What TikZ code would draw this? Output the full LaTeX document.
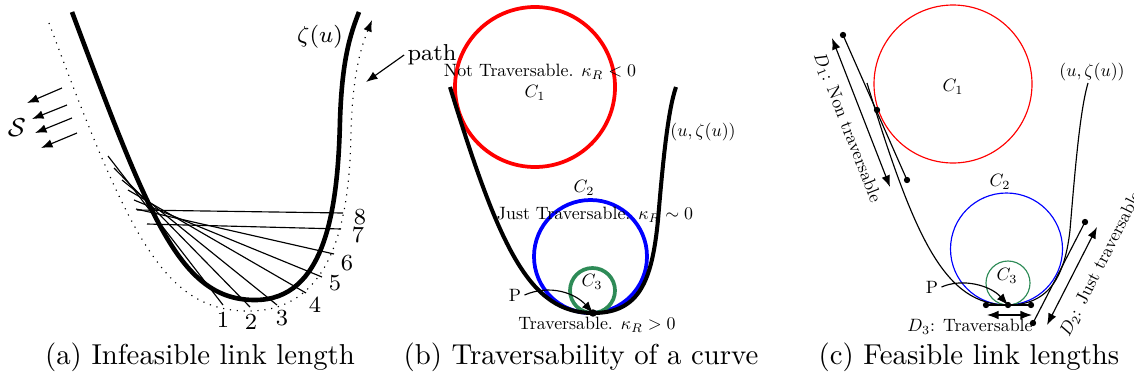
\documentclass[tikz,border=0pt]{standalone}
\usepackage{xcolor}
\usepackage{graphicx}
\usepackage{tikz}
\usetikzlibrary{positioning,arrows.meta}
\usepackage{amsmath,amssymb}

\definecolor{darkgreen}{RGB}{46,139,87}
\newcommand{\tn}[1]{\scalebox{0.62}{#1}}

\begin{document}
\begin{tikzpicture}[x=0.0122cm, y=-0.0122cm,
		bigtip/.style={-{Latex[length=4pt,width=3pt]}},
		twotip/.style={{Latex[length=4pt,width=3pt]}-{Latex[length=4pt,width=3pt]}},
		lab/.style={inner sep=1pt},
		alab/.style={font=\footnotesize, inner sep=1pt}]
	\useasboundingbox (0,0) rectangle (1134,380);

	% (a): curve, offset path and links
	\draw[line width=1.6pt] (72,12) .. controls (150,220) and (180,300) .. (255,300)
		.. controls (325,300) and (338,210) .. (340,120)
		.. controls (342,60) and (350,35) .. (359,12);
	\draw[dotted, bigtip] (49,23) .. controls (130,240) and (165,312) .. (250,311)
		.. controls (335,310) and (350,215) .. (351,130)
		.. controls (353,70) and (362,45) .. (372,20);
	\foreach \n/\sx/\sy/\ex/\ey/\lx/\ly in {1/108/156/223/305/223/320, 2/114/168/250/307/251/322, 3/122/180/277/305/282/318, 4/128/190/306/293/315/305, 5/134/200/322/277/335/283, 6/136/209/334/254/347/263, 7/147/224/341/229/358/235, 8/137/210/343/213/360/217} {
			\draw[thin] (\sx,\sy) -- (\ex,\ey);
			\node[alab] (num\n) at (\lx,\ly) {\n};
		}
	\foreach \sx/\sy/\ex/\ey in {62/88/27/103, 67/105/32/119, 72/118/35/133, 77/133/41/148} {
			\draw[bigtip] (\sx,\sy) -- (\ex,\ey);
		}
	\node[font=\small] (setS) at (17,128) {$\mathcal{S}$};
	\node[alab] (zetaa) at (320,37) {$\zeta(u)$};
	\node[alab] (pathlab) at (432,55) {path};
	\coordinate (pathend) at (366,82);
	\draw[bigtip] (pathlab.west) -- (pathend);

	% (b): traversability
	\draw[red, line width=1.3pt] (535,87) circle (80);
	\draw[blue, line width=1.3pt] (590.5,256.5) circle (56.5);
	\draw[darkgreen, line width=1.3pt] (592.5,290.5) circle (22.5);
	\draw[line width=1.4pt] (450,87) .. controls (500,250) and (530,313) .. (593,313)
		.. controls (640,313) and (652,280) .. (658,220)
		.. controls (663,160) and (668,110) .. (676,87);
	\coordinate (tb) at (593,313);
	\fill (tb) circle (1.3pt);
	\node[lab] (notb) at (540,72) {\tn{Not Traversable. $\kappa_R<0$}};
	\node[lab] (c1b) at (535,93) {\tn{$C_1$}};
	\node[lab] (zetab) at (703,132) {\tn{$(u,\zeta(u))$}};
	\node[lab] (c2b) at (584,188) {\tn{$C_2$}};
	\node[lab] (justb) at (595,215) {\tn{Just Traversable. $\kappa_R\sim 0$}};
	\node[lab] (c3b) at (592,282) {\tn{$C_3$}};
	\node[lab] (pb) at (515,295) {\tn{P}};
	\node[lab] (travb) at (597,325) {\tn{Traversable. $\kappa_R>0$}};
	\draw[-{Latex[length=4pt,width=3pt]}] (pb.east) .. controls (550,284) and (575,293) .. (tb);

	% (c): feasible link lengths
	\draw[red] (953,84) circle (79);
	\draw[blue] (1006.5,249) circle (56);
	\draw[darkgreen] (1008,283) circle (22);
	\draw (867,83) .. controls (915,240) and (945,305) .. (1008,305)
		.. controls (1050,305) and (1065,275) .. (1070,230)
		.. controls (1075,170) and (1080,110) .. (1088,83);
	\node[lab] (c1c) at (953,87) {\tn{$C_1$}};
	\node[lab] (c2c) at (1000,182) {\tn{$C_2$}};
	\node[lab] (c3c) at (1007,276) {\tn{$C_3$}};
	\node[lab] (zetac) at (1092,72) {\tn{$(u,\zeta(u))$}};

	% links D1, D2, D3
	\coordinate (d1a) at (843,35);
	\coordinate (d1m) at (877,110);
	\coordinate (d1b) at (907,180);
	\coordinate (d2a) at (1033,323);
	\coordinate (d2b) at (1085,222);
	\coordinate (d3a) at (986,305);
	\coordinate (tc) at (1008,305);
	\coordinate (d3b) at (1031,305);
	\draw (d1a) -- (d1b);
	\draw (d2a) -- (d2b);
	\draw (d3a) -- (d3b);
	\foreach \p in {d1a,d1m,d1b,d2a,d2b,d3a,tc,d3b} {
			\fill (\p) circle (1.1pt);
		}
	\coordinate (a1s) at (832,38);
	\coordinate (a1e) at (890,187);
	\coordinate (a2s) at (1047,325);
	\coordinate (a2e) at (1097,227);
	\coordinate (a3s) at (987,315);
	\coordinate (a3e) at (1032,315);
	\draw[twotip] (a1s) -- (a1e);
	\draw[twotip] (a2s) -- (a2e);
	\draw[twotip] (a3s) -- (a3e);
	\node[lab, rotate=-68.7] (d1lab) at (847,128) {\tn{$D_1$: Non traversable}};
	\node[lab, rotate=63] (d2lab) at (1101,264) {\tn{$D_2$: Just traversable}};
	\node[lab] (d3lab) at (970,327) {\tn{$D_3$: Traversable}};
	\node[lab] (pc) at (932,287) {\tn{P}};
	\draw[-{Latex[length=4pt,width=3pt]}] (pc.east) .. controls (962,278) and (990,285) .. (tc);

	% captions
	\node (capa) at (200,357) {(a) Infeasible link length};
	\node (capb) at (581,357) {(b) Traversability of a curve};
	\node (capc) at (969,357) {(c) Feasible link lengths};
\end{tikzpicture}
\end{document}
